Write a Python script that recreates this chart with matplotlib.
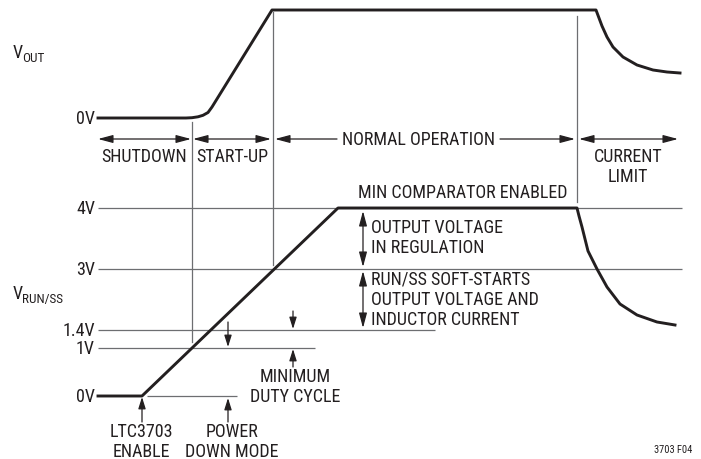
"""LTC3703 start-up / shutdown timing diagram (3703 F04)."""

import matplotlib

matplotlib.use("Agg")
import matplotlib.pyplot as plt

# Diagram laid out in image units (x: time, y: screen rows, top = 0)
W, H = 701, 460
X_START = 98            # left end of every level line
T_ENABLE = 142          # RUN/SS starts charging
T_SHUTDOWN_END = 192    # RUN/SS reaches 1V
T_STARTUP_END = 273     # RUN/SS reaches 3V, Vout in regulation
T_LIMIT = 577           # current limit kicks in

# voltage levels on the RUN/SS trace and their row positions
run_labels = ["4V", "3V", "1.4V", "1V", "0V"]
run_rows = [209, 270, 331, 349, 397]
run_line_end = [682, 682, 435, 315, 237]
vout_zero_row = 119

# Vout waveform
vout_x = [98, 186, 192, 198, 203, 208, 212, 272, 596, 599, 602, 607, 613, 623, 637, 653, 667, 680]
vout_y = [119, 119, 118.7, 117.8, 116.3, 113.5, 108, 11, 11, 19, 27, 38, 48, 58, 66, 71, 73, 74]

# RUN/SS waveform
run_x = [98, 142, 338, 577, 579, 582, 588, 597, 607, 620, 637, 657, 675]
run_y = [397, 397, 209, 209, 217, 228, 252, 270, 288, 305, 316, 323, 326]

INK = "#231f20"
GRID = "#6d6e71"

plt.rcParams["font.family"] = ["Roboto Condensed", "Liberation Sans", "DejaVu Sans"]

fig = plt.figure(figsize=(W / 100, H / 100), dpi=100)
ax = fig.add_axes([0, 0, 1, 1])
ax.set_xlim(0, W)
ax.set_ylim(H, 0)
ax.axis("off")

FS = 13


def arrow(x0, y0, x1, y1, both=False, hl=0.75, hw=0.2, ms=12):
    style = "<|-|>" if both else "-|>"
    ax.annotate(
        "",
        xy=(x1, y1),
        xytext=(x0, y0),
        arrowprops=dict(
            arrowstyle=f"{style},head_length={hl},head_width={hw}",
            color=INK,
            lw=0.9,
            mutation_scale=ms,
            shrinkA=0,
            shrinkB=0,
        ),
    )


# level lines + labels
ax.text(95, vout_zero_row, "0V", ha="right", va="center", fontsize=FS, color=INK)
for lab, row, end in zip(run_labels, run_rows, run_line_end):
    ax.text(95, row, lab, ha="right", va="center", fontsize=FS, color=INK)
    start = X_START if lab != "0V" else 147
    ax.plot([start, end], [row, row], color=GRID, lw=0.9, solid_capstyle="butt")

# phase boundaries
ax.plot([T_SHUTDOWN_END] * 2, [123, 343], color=GRID, lw=0.9)
ax.plot([T_STARTUP_END] * 2, [13, 266], color=GRID, lw=0.9)
ax.plot([T_LIMIT] * 2, [17, 203], color=GRID, lw=0.9)

# waveforms
ax.plot(vout_x, vout_y, color=INK, lw=2.1, solid_joinstyle="round")
ax.plot(run_x, run_y, color=INK, lw=2.1, solid_joinstyle="round")

# trace names (V + subscript)
ax.text(13, 58, "V", ha="left", va="baseline", fontsize=FS, color=INK)
ax.text(22, 62, "OUT", ha="left", va="baseline", fontsize=9.5, color=INK)
ax.text(13, 299, "V", ha="left", va="baseline", fontsize=FS, color=INK)
ax.text(22, 303, "RUN/SS", ha="left", va="baseline", fontsize=9.5, color=INK)

# operating phases
ROW = 140
arrow(X_START, ROW, T_SHUTDOWN_END - 1, ROW, both=True)
arrow(T_SHUTDOWN_END + 1, ROW, T_STARTUP_END - 2, ROW, both=True)
arrow(337, ROW, T_STARTUP_END + 2, ROW)
arrow(500, ROW, T_LIMIT - 2, ROW)
arrow(T_LIMIT + 2, ROW, 678, ROW, both=True)
ax.text(144, 157, "SHUTDOWN", ha="center", va="center", fontsize=FS, color=INK)
ax.text(232, 157, "START-UP", ha="center", va="center", fontsize=FS, color=INK)
ax.text(418, 140, "NORMAL OPERATION", ha="center", va="center", fontsize=FS, color=INK)
ax.text(628, 167, "CURRENT\nLIMIT", ha="center", va="center", fontsize=FS, color=INK,
        linespacing=1.15)
ax.text(358, 193, "MIN COMPARATOR ENABLED", ha="left", va="center", fontsize=FS, color=INK)

# regulation / soft-start bands
arrow(363, 212, 363, 268, both=True)
arrow(363, 272, 363, 329, both=True)
ax.text(371, 238, "OUTPUT VOLTAGE\nIN REGULATION", ha="left", va="center", fontsize=FS,
        color=INK, linespacing=1.15)
ax.text(371, 300, "RUN/SS SOFT-STARTS\nOUTPUT VOLTAGE AND\nINDUCTOR CURRENT", ha="left",
        va="center", fontsize=FS, color=INK, linespacing=1.15)

# minimum duty cycle and enable markers
arrow(293, 312, 293, 330, hl=0.7, hw=0.22, ms=10)
arrow(293, 368, 293, 350, hl=0.7, hw=0.22, ms=10)
arrow(228, 323, 228, 348, hl=0.7, hw=0.22, ms=10)
arrow(142, 423, 142, 398, hl=0.7, hw=0.22, ms=10)
arrow(228, 423, 228, 399, hl=0.7, hw=0.22, ms=10)
ax.text(295, 387, "MINIMUM\nDUTY CYCLE", ha="center", va="center", fontsize=FS, color=INK,
        linespacing=1.15)
ax.text(141, 442, "LTC3703\nENABLE", ha="center", va="center", fontsize=FS, color=INK,
        linespacing=1.15)
ax.text(232, 442, "POWER\nDOWN MODE", ha="center", va="center", fontsize=FS, color=INK,
        linespacing=1.15)

ax.text(692, 450, "3703 F04", ha="right", va="center", fontsize=7.5, color=INK)

fig.savefig("out.png", dpi=100)
